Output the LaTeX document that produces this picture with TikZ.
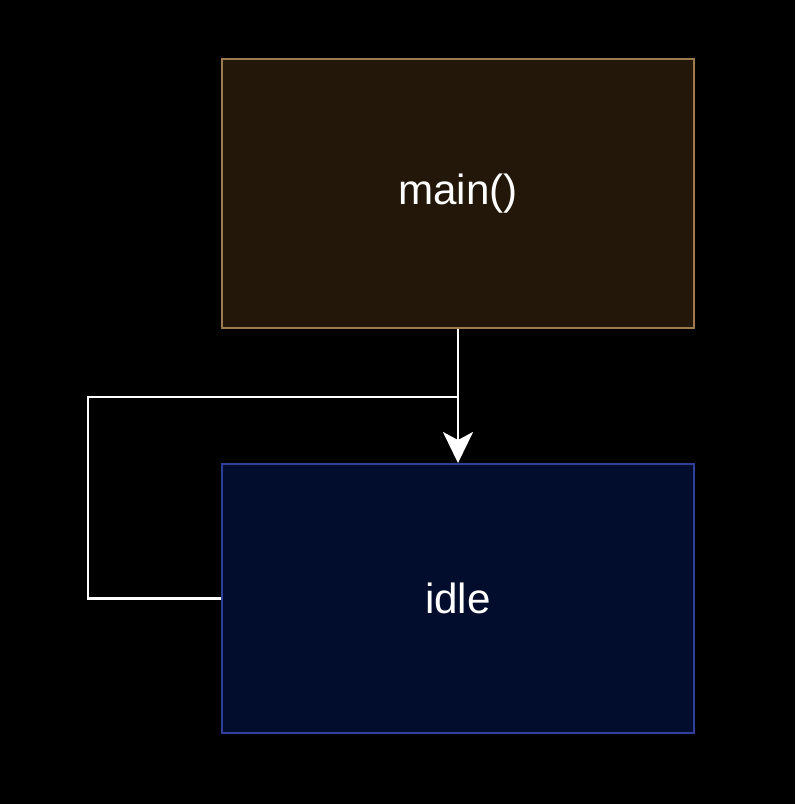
\documentclass[tikz,border=0pt]{standalone}
\usepackage{fontspec}
\setmainfont{Liberation Sans}
\usetikzlibrary{arrows.meta}
\definecolor{mainfill}{HTML}{231709}
\definecolor{maindraw}{HTML}{9C7B50}
\definecolor{idlefill}{HTML}{020D2E}
\definecolor{idledraw}{HTML}{2E4099}
\tikzset{state/.style={minimum width=9.44cm,minimum height=5.38cm,line width=1.1pt,text=white,font=\fontsize{24}{28}\selectfont},
 link/.style={draw=white,line width=1.6pt}}
\begin{document}
\begin{tikzpicture}
 \fill[black](0,0) rectangle (15.9,-16.08);
 \useasboundingbox (0,0) rectangle (15.9,-16.08);
 \node[state,fill=mainfill,draw=maindraw](main) at (9.16,-3.87) {main()};
 \node[state,fill=idlefill,draw=idledraw](idle) at (9.16,-11.97) {idle};
 \coordinate (join) at (9.16,-7.94);
 \draw[link,-{Stealth[length=0.62cm,width=0.6cm,inset=0.16cm]}](main.south)--(idle.north);
 \draw[link](idle.west)-|(1.76,-7.94)--(join);
\end{tikzpicture}
\end{document}
